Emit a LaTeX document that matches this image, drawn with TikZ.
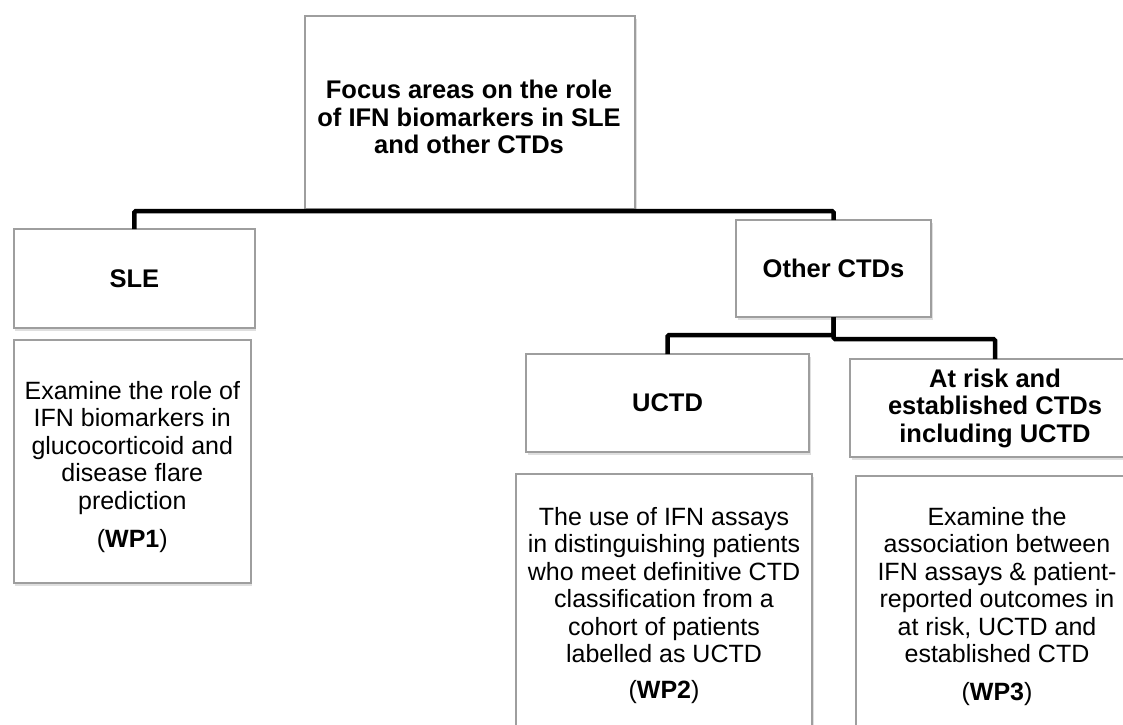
\documentclass[tikz,border=0pt]{standalone}
\usepackage{fontspec}
\setmainfont{Liberation Sans}
\usetikzlibrary{shadows}
\definecolor{boxgray}{RGB}{158,158,158}
\begin{document}
\begin{tikzpicture}[x=1pt,y=-1pt,
  box/.style={draw=boxgray, line width=1.5pt, fill=white, inner sep=0pt, outer sep=0pt,
    drop shadow={opacity=0.25, shadow xshift=1.5pt, shadow yshift=-2.5pt}},
  conn/.style={line width=4.5pt, rounded corners=1.5pt},
  head/.style={font=\fontsize{25.5}{27.5}\selectfont\bfseries, align=center},
  body/.style={font=\fontsize{25}{27.5}\selectfont, align=center, anchor=north, inner sep=0pt, outer sep=0pt}]
\useasboundingbox (0,0) rectangle (1123,724);
\clip (0,0) rectangle (1123,724);
\fill[white] (0,0) rectangle (1123,724);

% boxes
\node[box, minimum width=330pt, minimum height=193pt] (top) at (470,112.5) {};
\node[head, inner sep=0pt] (toptext) at (469,117)
  {Focus areas on the role\\of IFN biomarkers in SLE\\and other CTDs};
\node[box, head, minimum width=241pt, minimum height=99pt] (sle) at (134.3,278.5) {SLE};
\node[box, minimum width=237pt, minimum height=243pt] (wp1) at (132.3,461.5) {};
\node[box, head, minimum width=195pt, minimum height=97pt] (oc) at (833.5,268.5) {Other CTDs};
\node[box, head, minimum width=283pt, minimum height=98pt] (uctd) at (667.5,403) {UCTD};
\node[box, head, minimum width=290pt, minimum height=98pt] (atrisk) at (995,408)
  {At risk and\\established CTDs\\including UCTD};
\node[box, minimum width=296pt, minimum height=276pt] (wp2) at (664,612) {};
\node[box, minimum width=282pt, minimum height=274pt] (wp3) at (997,613) {};

% body texts
\node[body] (wp1text) at (132.3,381)
  {Examine the role of\\IFN biomarkers in\\glucocorticoid and\\disease flare\\prediction\\[11pt](\textbf{WP1})};
\node[body] (wp2text) at (664,507)
  {The use of IFN assays\\in distinguishing patients\\who meet definitive CTD\\classification from a\\cohort of patients\\labelled as UCTD\\[8pt](\textbf{WP2})};
\node[body] (wp3text) at (997,507)
  {Examine the\\association between\\IFN assays \& patient-\\reported outcomes in\\at risk, UCTD and\\established CTD\\[10pt](\textbf{WP3})};

% connectors
\coordinate (j1) at (0,211);
\coordinate (j2) at (0,335);
\coordinate (j3) at (0,339);
\draw[conn] (sle.north) -- (sle.north |- j1) -- (oc.north |- j1) -- (oc.north);
\draw[conn] (oc.south) -- (oc.south |- j2) -| (uctd.north);
\draw[conn] (oc.south) -- (oc.south |- j3) -| (atrisk.north);
\end{tikzpicture}
\end{document}
